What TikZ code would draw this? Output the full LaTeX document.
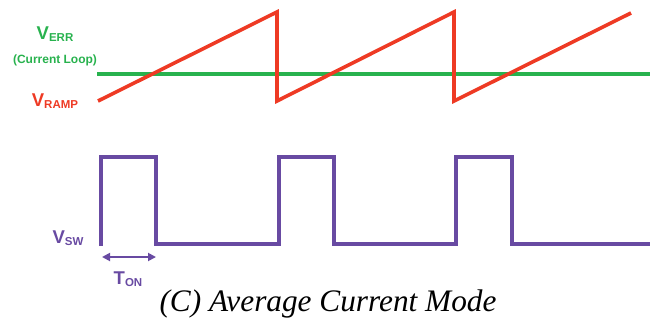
\documentclass[tikz,border=0pt]{standalone}
\usepackage{fontspec}
\setmainfont{Liberation Serif}
\setsansfont{Liberation Sans}
\usetikzlibrary{arrows.meta}
\definecolor{errgreen}{RGB}{40,178,78}
\definecolor{rampred}{RGB}{238,58,36}
\definecolor{swpurple}{RGB}{104,74,162}
\tikzset{
  siglabel/.style={font=\sffamily\bfseries, inner sep=0pt},
  wave/.style={line width=3.6pt, line join=miter}
}
\newcommand{\sig}[2]{\fontsize{18.5}{20}\selectfont #1\raisebox{-0.25ex}{\fontsize{11.5}{12}\selectfont #2}}

\begin{document}
\begin{tikzpicture}[x=1pt, y=-1pt]
				\useasboundingbox (0,0) rectangle (650,321);
				% labels
				\node[siglabel, text=errgreen] (verr) at (55,34) {\sig{V}{ERR}};
				\node[siglabel, text=errgreen, font=\sffamily\bfseries\fontsize{12}{13}\selectfont] (loop) at (55,60) {(Current Loop)};
				\node[siglabel, text=rampred] (vramp) at (55,101) {\sig{V}{RAMP}};
				\node[siglabel, text=swpurple] (vsw) at (68,238) {\sig{V}{SW}};
				\node[siglabel, text=swpurple] (ton) at (128,279) {\sig{T}{ON}};
				\node[font=\itshape\fontsize{31.3}{34}\selectfont, inner sep=0pt] (caption) at (328,304) {(C) Average Current Mode};
				% error level
				\coordinate (gstart) at (97,74);
				\coordinate (gend) at (650,74);
				\draw[wave, errgreen] (gstart) -- (gend);
				% ramp
				\draw[wave, rampred] (98,101) -- (277,12) -- (277,101) -- (454,12) -- (454,101) -- (631,13);
				% switch node
				\draw[wave, swpurple] (101,246) -- (101,157) -- (156,157) -- (156,244) -- (279,244) -- (279,157)
				  -- (334,157) -- (334,244) -- (456,244) -- (456,157) -- (512,157) -- (512,244) -- (650,244);
				% on time
				\coordinate (tonl) at (102,257);
				\coordinate (tonr) at (156,257);
				\draw[{Triangle[length=8pt,width=8pt]}-{Triangle[length=8pt,width=8pt]}, line width=1.8pt, swpurple] (tonl) -- (tonr);
			\end{tikzpicture}
\end{document}
